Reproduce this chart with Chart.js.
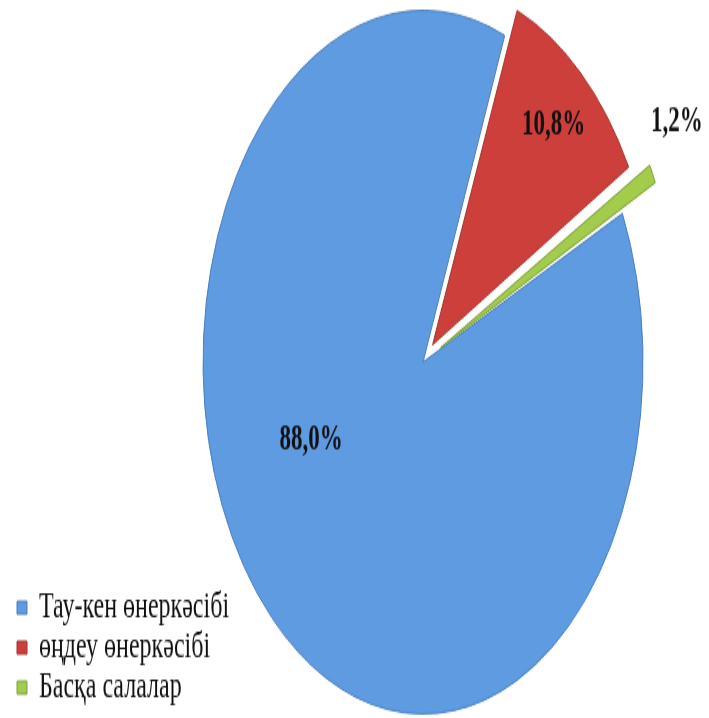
<!DOCTYPE html>
<html>
<head>
<meta charset="utf-8">
<script src="https://cdn.jsdelivr.net/npm/chart.js@4/dist/chart.umd.min.js"></script>
<style>
  html, body { margin: 0; padding: 0; background: #fff; overflow: hidden; }
  #page { width: 709px; height: 718px; position: relative; overflow: hidden; }
  /* the original picture is stretched vertically, so the pie is an ellipse */
  #wrap { position: absolute; left: 0; top: 0; width: 709px; height: 449px; transform: scaleY(1.599); transform-origin: 0 0; }
</style>
</head>
<body>
<div id="page"><div id="wrap"><canvas id="myChart" width="709" height="449"></canvas></div></div>
<script>
// pie-chart data
const labels = ['Тау-кен өнеркәсібі', 'өңдеу өнеркәсібі', 'Басқа салалар'];
const values = [88.0, 10.8, 1.2];
const valueText = ['88,0%', '10,8%', '1,2%'];
const colors = ['#5f9be0', '#cc3f3b', '#a3cc4c'];
const borders = ['#4a7fbf', '#a8322f', '#7fa33a'];

const serif = 'Liberation Serif, DejaVu Serif, serif';

// draws the percentage text on each slice
const sliceLabels = {
    id: 'sliceLabels',
    afterDatasetsDraw(chart) {
        const ctx = chart.ctx;
        const meta = chart.getDatasetMeta(0);
        ctx.save();
        ctx.font = 'bold 23px ' + serif;
        ctx.fillStyle = '#111';
        ctx.textAlign = 'center';
        ctx.textBaseline = 'middle';
        meta.data.forEach((arc, i) => {
            const p = arc.getProps(['x', 'y', 'startAngle', 'endAngle', 'outerRadius'], true);
            const mid = (p.startAngle + p.endAngle) / 2;
            let r = p.outerRadius * 0.9;
            let a = mid;
            if (values[i] > 50) { r = p.outerRadius * 0.555; a = mid + 0.4; }
            if (values[i] <= 5) { r = p.outerRadius * 1.34; a = mid - 0.06; }
            ctx.fillText(valueText[i], p.x + Math.cos(a) * r, p.y + Math.sin(a) * r);
        });
        ctx.restore();
    }
};

const ctx = document.getElementById('myChart').getContext('2d');
new Chart(ctx, {
    type: 'pie',
    data: {
        labels: labels,
        datasets: [{
            data: values,
            backgroundColor: colors,
            borderColor: borders,
            borderWidth: 1,
            offset: [0, 58, 79],
            clip: false
        }]
    },
    options: {
        responsive: false,
        animation: false,
        rotation: 65,
        radius: 220,
        layout: { padding: { left: 16, right: 102, top: 10, bottom: 6 } },
        plugins: {
            legend: {
                display: true,
                position: 'left',
                align: 'end',
                labels: {
                    boxWidth: 10,
                    boxHeight: 8,
                    padding: 1,
                    color: '#111',
                    font: { family: serif, size: 24, lineHeight: 1.0 }
                }
            },
            tooltip: { enabled: false }
        }
    },
    plugins: [sliceLabels]
});
</script>
</body>
</html>
